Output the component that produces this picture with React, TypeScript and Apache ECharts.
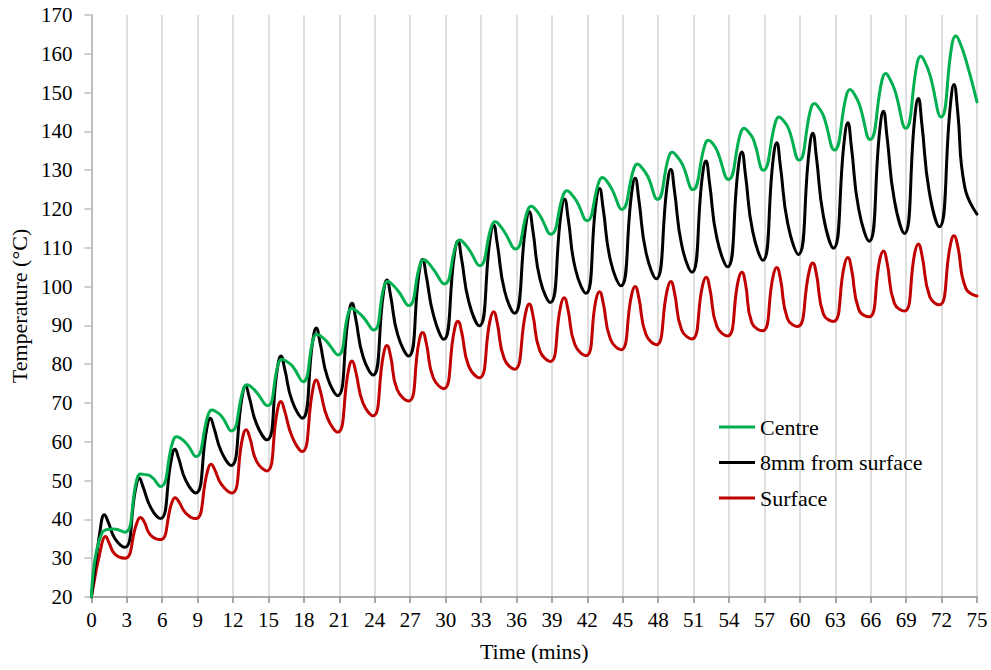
import React, { useEffect, useRef } from "react";
import * as echarts from "echarts";

const seriesNames = ["Centre", "8mm from surface", "Surface"];
const seriesColors = ["#00b050", "#000000", "#c00000"];

// [time (mins), temperature (°C)]
const centre: [number, number][] = [
  [0, 20], [0.9, 36.5], [1.89, 37.5], [2.82, 36.7],
  [3.85, 50.3], [4.15, 51.7], [4.45, 51.6], [5.0, 51.2], [5.84, 48.5],
  [6.9, 60.1], [7.2, 61.3], [7.5, 61.0], [8.1, 59.4], [8.85, 56.2],
  [9.9, 67.1], [10.2, 68.2], [10.5, 67.9], [11.05, 66.5], [11.85, 62.8],
  [12.88, 73.6], [13.18, 74.7], [13.48, 74.3], [14.0, 72.7], [14.9, 69.3],
  [15.84, 80.2], [16.14, 81.3], [16.44, 80.9], [17.05, 79.4], [17.92, 75.5],
  [18.8, 86.6], [19.1, 87.7], [19.4, 87.3], [19.95, 85.8], [20.88, 82.4],
  [21.77, 93.3], [22.07, 94.4], [22.37, 93.9], [23.0, 92.2], [23.9, 88.8],
  [24.8, 100.2], [25.1, 101.3], [25.4, 100.8], [26.0, 98.8], [26.86, 95.1],
  [27.85, 105.8], [28.15, 106.9], [28.45, 106.4], [29.0, 104.3], [29.88, 100.7],
  [30.9, 111.0], [31.2, 112.0], [31.5, 111.4], [32.0, 109.5], [32.87, 105.4],
  [33.9, 115.7], [34.2, 116.7], [34.5, 116.1], [35.0, 114.0], [35.9, 109.7],
  [36.95, 119.7], [37.25, 120.7], [37.55, 120.1], [38.05, 118.0], [38.9, 113.5],
  [39.97, 123.7], [40.27, 124.7], [40.57, 124.1], [41.1, 122.0], [41.96, 117.0],
  [42.99, 127.1], [43.29, 128.1], [43.59, 127.4], [44.1, 125.0], [44.92, 119.9],
  [45.95, 130.5], [46.25, 131.6], [46.55, 130.9], [47.1, 128.5], [47.94, 122.5],
  [48.9, 133.5], [49.2, 134.6], [49.5, 133.9], [50.05, 131.5], [50.93, 125.0],
  [51.96, 136.6], [52.26, 137.7], [52.56, 137.1], [52.97, 135.2], [53.95, 127.6],
  [54.98, 139.6], [55.28, 140.8], [55.58, 140.1], [56.05, 138.0], [56.91, 130.0],
  [57.94, 142.5], [58.24, 143.7], [58.54, 143.0], [59.03, 140.8], [59.93, 132.6],
  [60.93, 145.9], [61.23, 147.2], [61.53, 146.4], [62.0, 144.0], [62.92, 135.2],
  [63.95, 149.4], [64.25, 150.8], [64.55, 149.9], [65.03, 147.0], [65.94, 137.9],
  [66.97, 153.4], [67.27, 154.9], [67.57, 153.8], [68.05, 150.5], [68.96, 140.8],
  [69.94, 157.7], [70.24, 159.4], [70.54, 158.2], [71.02, 154.5], [71.95, 143.7],
  [72.9, 162.7], [73.2, 164.6], [73.5, 163.3], [74.1, 158.0], [75.0, 147.6],
];

const mm8: [number, number][] = [
  [0, 20], [0.8, 38.5], [1.1, 41.2], [1.4, 39.5], [2.0, 35.0], [2.82, 32.8],
  [3.76, 48.1], [4.06, 50.6], [4.36, 48.5], [5.05, 42.9], [5.84, 40.2],
  [6.78, 55.6], [7.08, 58.1], [7.38, 55.8], [8.0, 50.0], [8.83, 46.8],
  [9.77, 63.4], [10.07, 66.1], [10.37, 63.7], [11.0, 57.5], [11.83, 53.9],
  [12.76, 71.5], [13.06, 74.4], [13.36, 71.6], [14.0, 64.5], [14.87, 60.5],
  [15.76, 79.1], [16.06, 82.1], [16.36, 78.9], [17.0, 70.5], [17.86, 66.1],
  [18.75, 86.1], [19.05, 89.3], [19.35, 85.8], [20.0, 76.5], [20.85, 71.9],
  [21.77, 92.4], [22.07, 95.7], [22.37, 92.0], [23.0, 82.0], [23.85, 77.2],
  [24.73, 98.3], [25.03, 101.7], [25.33, 97.8], [25.95, 87.5], [26.86, 82.1],
  [27.75, 103.5], [28.05, 107.0], [28.35, 102.9], [28.98, 92.5], [29.83, 86.4],
  [30.74, 108.2], [31.04, 111.7], [31.34, 107.3], [31.97, 96.0], [32.85, 89.9],
  [33.76, 112.3], [34.06, 115.9], [34.36, 111.3], [35.0, 98.8], [35.83, 93.1],
  [36.78, 115.6], [37.08, 119.3], [37.38, 114.6], [38.0, 101.8], [38.86, 95.9],
  [39.77, 118.8], [40.07, 122.5], [40.37, 117.7], [41.0, 104.4], [41.88, 98.3],
  [42.73, 121.5], [43.03, 125.3], [43.33, 120.3], [43.97, 106.6], [44.84, 100.2],
  [45.75, 124.0], [46.05, 127.9], [46.35, 122.7], [46.97, 108.8], [47.83, 102.0],
  [48.77, 126.3], [49.07, 130.2], [49.37, 124.9], [50.0, 110.6], [50.85, 103.7],
  [51.74, 128.4], [52.04, 132.4], [52.34, 126.9], [52.97, 112.5], [53.87, 105.1],
  [54.78, 130.6], [55.08, 134.7], [55.38, 129.1], [56.0, 114.3], [56.86, 106.8],
  [57.74, 132.9], [58.04, 137.1], [58.34, 131.3], [58.98, 116.1], [59.87, 108.3],
  [60.79, 135.1], [61.09, 139.5], [61.39, 133.6], [62.0, 118.0], [62.84, 109.9],
  [63.76, 137.7], [64.06, 142.2], [64.36, 136.1], [64.98, 120.0], [65.86, 111.7],
  [66.77, 140.5], [67.07, 145.2], [67.37, 138.9], [68.0, 122.3], [68.85, 113.7],
  [69.73, 143.6], [70.03, 148.5], [70.33, 141.9], [70.96, 124.4], [71.81, 115.4],
  [72.75, 146.9], [73.05, 152.1], [73.35, 145.6], [73.96, 125.7], [75.0, 118.7],
];

const surface: [number, number][] = [
  [0, 20], [0.89, 33.8], [1.19, 35.6], [1.49, 34.0], [1.97, 31.1], [2.82, 30.0],
  [3.85, 39.1], [4.15, 40.5], [4.45, 39.5], [5.0, 36.0], [5.84, 34.8],
  [6.8, 44.2], [7.1, 45.6], [7.4, 44.6], [8.0, 41.6], [8.83, 40.2],
  [9.83, 52.4], [10.13, 54.2], [10.43, 52.9], [11.0, 49.1], [11.9, 46.8],
  [12.8, 61.0], [13.1, 63.1], [13.4, 61.2], [14.0, 54.9], [14.85, 52.5],
  [15.75, 68.1], [16.05, 70.4], [16.35, 68.1], [17.0, 61.3], [17.84, 57.5],
  [18.75, 73.5], [19.05, 75.9], [19.35, 73.5], [20.0, 66.1], [20.85, 62.5],
  [21.77, 78.4], [22.07, 80.8], [22.37, 78.3], [23.0, 70.0], [23.85, 66.7],
  [24.73, 82.4], [25.03, 84.8], [25.33, 82.2], [25.9, 73.4], [26.86, 70.5],
  [27.75, 85.9], [28.05, 88.2], [28.35, 85.6], [28.95, 76.5], [29.83, 73.7],
  [30.74, 88.8], [31.04, 91.1], [31.34, 88.5], [31.95, 79.5], [32.85, 76.5],
  [33.76, 91.3], [34.06, 93.5], [34.36, 90.8], [34.95, 81.5], [35.83, 78.7],
  [36.78, 93.3], [37.08, 95.5], [37.38, 92.8], [37.97, 83.5], [38.86, 80.7],
  [39.74, 95.0], [40.04, 97.1], [40.34, 94.4], [40.95, 85.0], [41.88, 82.2],
  [42.73, 96.6], [43.03, 98.7], [43.33, 96.0], [43.95, 86.5], [44.84, 83.7],
  [45.75, 97.9], [46.05, 100.0], [46.35, 97.3], [46.95, 87.8], [47.83, 85.0],
  [48.77, 99.2], [49.07, 101.3], [49.37, 98.6], [49.98, 88.9], [50.85, 86.5],
  [51.76, 100.3], [52.06, 102.4], [52.36, 99.7], [52.97, 89.7], [53.87, 87.3],
  [54.78, 101.6], [55.08, 103.7], [55.38, 101.0], [55.93, 90.7], [56.83, 88.6],
  [57.74, 102.8], [58.04, 104.9], [58.34, 102.2], [58.95, 91.7], [59.8, 89.7],
  [60.79, 104.0], [61.09, 106.1], [61.39, 103.4], [62.0, 92.9], [62.84, 91.0],
  [63.76, 105.4], [64.06, 107.5], [64.36, 104.7], [65.0, 94.0], [65.86, 92.2],
  [66.77, 107.0], [67.07, 109.2], [67.37, 106.4], [68.0, 95.7], [68.85, 93.7],
  [69.73, 108.7], [70.03, 111.0], [70.33, 108.2], [71.0, 97.4], [71.81, 95.3],
  [72.75, 110.8], [73.05, 113.1], [73.35, 110.7], [74.05, 99.6], [75.0, 97.6],
];

const xAxisTitle = "Time (mins)";
const yAxisTitle = "Temperature (°C)";
const xMin = 0, xMax = 75, xStep = 3;
const yMin = 20, yMax = 170, yStep = 10;

const FONT = "'Liberation Serif', 'Times New Roman', serif";

export default function App() {
  const ref = useRef<HTMLDivElement>(null);
  useEffect(() => {
    if (!ref.current) return;
    const chart = echarts.init(ref.current, undefined, { renderer: "svg" });
    const datasets = [centre, mm8, surface];
    chart.setOption({
      animation: false,
      backgroundColor: "#ffffff",
      grid: { left: 91, right: 14, top: 15, bottom: 73, containLabel: false },
      legend: {
        orient: "vertical",
        left: 719,
        top: 416,
        padding: 0,
        icon: "rect",
        itemWidth: 36,
        itemHeight: 3,
        itemGap: 13.5,
        textStyle: { fontFamily: FONT, fontSize: 22, lineHeight: 22, color: "#000" },
        data: seriesNames,
      },
      xAxis: {
        type: "value",
        min: xMin,
        max: xMax,
        interval: xStep,
        name: xAxisTitle,
        nameLocation: "middle",
        nameGap: 43,
        nameTextStyle: { fontFamily: FONT, fontSize: 22, color: "#000" },
        axisLine: { show: true, lineStyle: { color: "#8c8c8c", width: 1.5 } },
        axisTick: { show: true, length: 6, lineStyle: { color: "#8c8c8c", width: 1.5 } },
        axisLabel: { fontFamily: FONT, fontSize: 21, color: "#000", margin: 12 },
        splitLine: { show: true, lineStyle: { color: "#d4d4d4", width: 1.5 } },
      },
      yAxis: {
        type: "value",
        min: yMin,
        max: yMax,
        interval: yStep,
        name: yAxisTitle,
        nameLocation: "middle",
        nameGap: 61,
        nameTextStyle: { fontFamily: FONT, fontSize: 22, color: "#000" },
        axisLine: { show: true, lineStyle: { color: "#bfbfbf", width: 2 } },
        axisTick: { show: true, length: 7, lineStyle: { color: "#bfbfbf", width: 1.5 } },
        axisLabel: { fontFamily: FONT, fontSize: 21, color: "#000", margin: 19 },
        splitLine: { show: false },
      },
      series: seriesNames.map((name, i) => ({
        name,
        type: "line",
        data: datasets[i],
        smooth: 0.5,
        symbol: "none",
        lineStyle: { color: seriesColors[i], width: 3, join: "round", cap: "round" },
        itemStyle: { color: seriesColors[i] },
        z: 3 - i,
      })),
    });
    return () => chart.dispose();
  }, []);
  return (
    <div
      ref={ref}
      style={{ position: "fixed", left: 0, top: 0, width: 991, height: 670 }}
    />
  );
}
